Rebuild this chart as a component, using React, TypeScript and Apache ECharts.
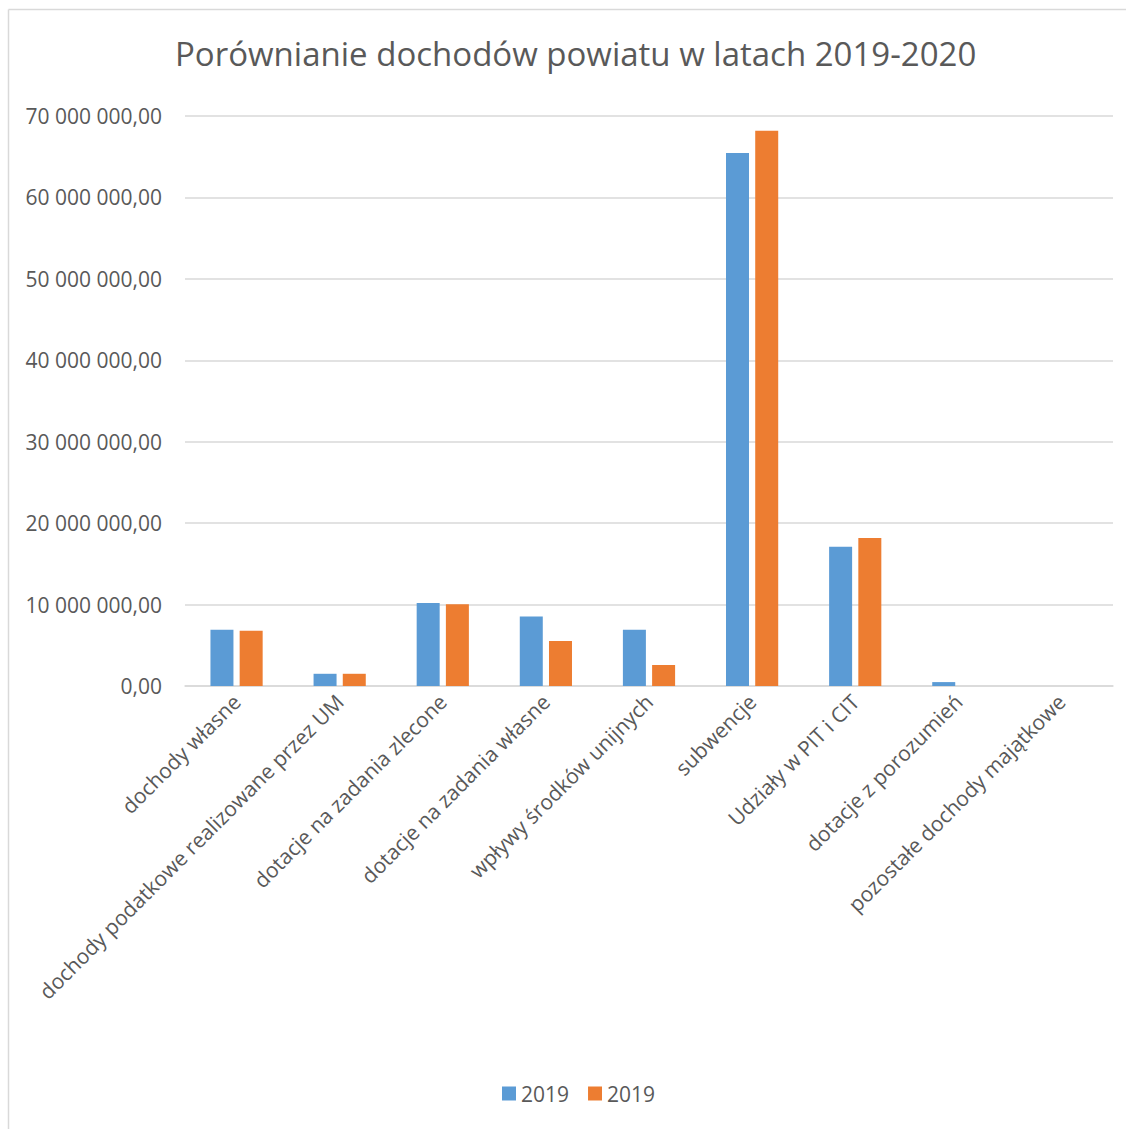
import React, { useEffect, useRef } from "react";
import * as echarts from "echarts";

const titleText = "Porównianie dochodów powiatu w latach 2019-2020";
const categories = [
  "dochody własne",
  "dochody podatkowe realizowane przez UM",
  "dotacje na zadania zlecone",
  "dotacje na zadania własne",
  "wpływy środków unijnych",
  "subwencje",
  "Udziały w PIT i CIT",
  "dotacje z porozumień",
  "pozostałe dochody majątkowe",
];
const seriesNames = ["2019", "2019"];
const valuesA = [6900000, 1500000, 10200000, 8550000, 6900000, 65450000, 17100000, 480000, 0];
const valuesB = [6800000, 1500000, 10050000, 5530000, 2580000, 68200000, 18170000, 0, 0];

const fmt = (v: number) => {
  const s = Math.round(v).toString().replace(/\B(?=(\d{3})+(?!\d))/g, " ");
  return s + ",00";
};

export default function App() {
  const ref = useRef<HTMLDivElement>(null);
  useEffect(() => {
    if (!ref.current) return;
    const chart = echarts.init(ref.current, undefined, { renderer: "svg" });
    const font = "'Open Sans', 'Noto Sans', sans-serif";
    chart.setOption({
      animation: false,
      backgroundColor: "#ffffff",
      textStyle: { fontFamily: font },
      title: {
        text: titleText,
        left: 170,
        top: 32,
        textStyle: { fontFamily: font, fontSize: 33, fontWeight: "normal", color: "#595959" },
      },
      graphic: [
        {
          type: "line",
          shape: { x1: 8.5, y1: 9.5, x2: 1126, y2: 9.5 },
          style: { stroke: "#d9d9d9", lineWidth: 1.5 },
          silent: true,
        },
        {
          type: "line",
          shape: { x1: 8.5, y1: 9.5, x2: 8.5, y2: 1129 },
          style: { stroke: "#d9d9d9", lineWidth: 1.5 },
          silent: true,
        },
      ],
      legend: {
        bottom: 20,
        left: 497,
        itemWidth: 14,
        itemHeight: 14,
        itemGap: 19,
        icon: "rect",
        textStyle: { fontFamily: font, fontSize: 21, color: "#595959" },
        data: [
          { name: "a", itemStyle: { color: "#5B9BD5" } },
          { name: "b", itemStyle: { color: "#ED7D31" } },
        ],
        formatter: (n: string) => (n === "a" ? seriesNames[0] : seriesNames[1]),
      },
      grid: { left: 185, right: 13, top: 116, bottom: 443, containLabel: false },
      xAxis: {
        type: "category",
        data: categories,
        axisTick: { show: false },
        axisLine: { lineStyle: { color: "#d9d9d9", width: 1.5 } },
        axisLabel: {
          rotate: 45,
          interval: 0,
          margin: 12,
          fontFamily: font,
          fontSize: 21,
          color: "#595959",
        },
      },
      yAxis: {
        type: "value",
        min: 0,
        max: 70000000,
        interval: 10000000,
        axisLine: { show: false },
        axisTick: { show: false },
        splitLine: { lineStyle: { color: "#d9d9d9", width: 1.5 } },
        axisLabel: {
          margin: 23,
          fontFamily: font,
          fontSize: 21,
          color: "#595959",
          formatter: fmt,
        },
      },
      series: [
        {
          name: "a",
          type: "bar",
          data: valuesA,
          barWidth: 23,
          barGap: "27%",
          itemStyle: { color: "#5B9BD5" },
        },
        {
          name: "b",
          type: "bar",
          data: valuesB,
          barWidth: 23,
          barGap: "27%",
          itemStyle: { color: "#ED7D31" },
        },
      ],
    });
    return () => chart.dispose();
  }, []);
  return (
    <div
      ref={ref}
      style={{ position: "fixed", left: 0, top: 0, width: 1126, height: 1129 }}
    />
  );
}
